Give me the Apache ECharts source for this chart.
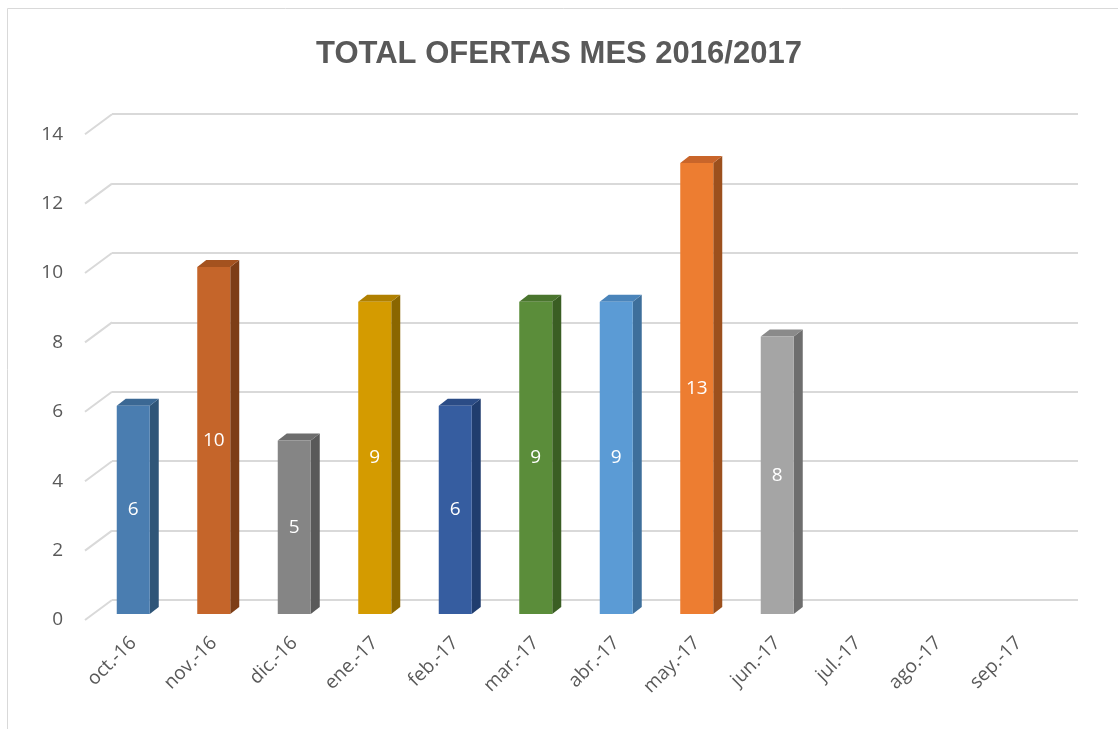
<!DOCTYPE html>
<html>
<head>
<meta charset="utf-8">
<script src="https://cdn.jsdelivr.net/npm/echarts@6/dist/echarts.min.js"></script>
<style>
  html, body { margin: 0; padding: 0; background: #fff; }
  #chart { width: 1118px; height: 729px; }
</style>
</head>
<body>
<div id="chart"></div>
<script>
var months = ['oct.-16', 'nov.-16', 'dic.-16', 'ene.-17', 'feb.-17', 'mar.-17',
    'abr.-17', 'may.-17', 'jun.-17', 'jul.-17', 'ago.-17', 'sep.-17'];
var ofertas = [6, 10, 5, 9, 6, 9, 9, 13, 8];
var yTicks = [0, 2, 4, 6, 8, 10, 12, 14];

// front / side / top colour of each bar
var barColors = [
    ['#4a7db0', '#2f5578', '#3b6894'],
    ['#c5652a', '#7d3e17', '#a4521f'],
    ['#858585', '#595959', '#6d6d6d'],
    ['#d49b00', '#8a6600', '#b08000'],
    ['#365da0', '#203d6e', '#2b4c86'],
    ['#5b8d3a', '#3a5e23', '#4a752e'],
    ['#5b9bd5', '#3e6f9b', '#4a84ba'],
    ['#ed7d31', '#9c501d', '#c9652a'],
    ['#a5a5a5', '#6e6e6e', '#8a8a8a']
];

var DX = 9, DY = 7;       // depth of a bar
var WX = 27, WY = 20;     // depth of the floor / wall

var chart = echarts.init(document.getElementById('chart'));

var option = {
    animation: false,
    title: {
        text: 'TOTAL OFERTAS MES 2016/2017',
        left: 'center',
        top: 34,
        textStyle: {
            fontFamily: 'Liberation Sans, sans-serif',
            fontSize: 31,
            fontWeight: 'bold',
            color: '#595959'
        }
    },
    graphic: [{
        type: 'rect',
        shape: { x: 7.5, y: 8.5, width: 1300, height: 900 },
        style: { fill: null, stroke: '#d9d9d9', lineWidth: 1 },
        silent: true
    }],
    grid: [
        // bars
        { left: 93, right: 1118 - 93 - 966, top: 614 - 14 * 34.7, bottom: 729 - 614 },
        // back wall
        { left: 112, right: 1118 - 1078, top: 600 - 14 * 34.7, bottom: 729 - 600 },
        // front edge (labels)
        { left: 85, right: 1118 - 85 - 966, top: 620 - 14 * 34.7, bottom: 729 - 620 }
    ],
    xAxis: [{
        gridIndex: 0,
        type: 'category',
        data: months,
        axisLine: { show: false },
        axisTick: { show: false },
        axisLabel: {
            rotate: 45,
            interval: 0,
            margin: 26,
            fontSize: 19,
            color: '#595959',
            fontFamily: 'Open Sans, sans-serif'
        }
    }, {
        gridIndex: 1,
        type: 'value',
        min: 0, max: 12,
        show: false
    }, {
        gridIndex: 2,
        type: 'value',
        min: 0, max: 12,
        show: false
    }],
    yAxis: [{
        gridIndex: 0,
        type: 'value',
        min: 0, max: 14, interval: 2,
        axisLabel: { show: false },
        axisLine: { show: false },
        axisTick: { show: false },
        splitLine: { show: false }
    }, {
        gridIndex: 1,
        type: 'value',
        min: 0, max: 14, interval: 2,
        axisLabel: { show: false },
        axisLine: { show: false },
        axisTick: { show: false },
        splitLine: { lineStyle: { color: '#d9d9d9', width: 2 } }
    }, {
        gridIndex: 2,
        type: 'value',
        min: 0, max: 14, interval: 2,
        axisLine: { show: false },
        axisTick: { show: false },
        splitLine: { show: false },
        axisLabel: {
            margin: 22,
            fontSize: 19,
            color: '#595959',
            fontFamily: 'Open Sans, sans-serif'
        }
    }],
    series: [{
        // diagonal edges of the floor
        type: 'custom',
        xAxisIndex: 1,
        yAxisIndex: 1,
        silent: true,
        data: yTicks.map(function (t) { return [0, t]; }),
        renderItem: function (params, api) {
            var p = api.coord([0, api.value(1)]);
            return {
                type: 'line',
                shape: { x1: p[0] - WX, y1: p[1] + WY, x2: p[0], y2: p[1] },
                style: { stroke: '#d9d9d9', lineWidth: 2 }
            };
        }
    }, {
        type: 'custom',
        xAxisIndex: 0,
        yAxisIndex: 0,
        data: ofertas.map(function (v, i) { return [i, v]; }),
        renderItem: function (params, api) {
            var v = api.value(1);
            var base = api.coord([api.value(0), 0]);
            var top = api.coord([api.value(0), v]);
            var w = api.size([1, 0])[0] * 0.41;
            var x0 = base[0] - w / 2, x1 = base[0] + w / 2;
            var c = barColors[params.dataIndex];
            return {
                type: 'group',
                children: [{
                    type: 'polygon',
                    shape: { points: [[x1, top[1]], [x1 + DX, top[1] - DY], [x1 + DX, base[1] - DY], [x1, base[1]]] },
                    style: { fill: c[1] }
                }, {
                    type: 'polygon',
                    shape: { points: [[x0, top[1]], [x0 + DX, top[1] - DY], [x1 + DX, top[1] - DY], [x1, top[1]]] },
                    style: { fill: c[2] }
                }, {
                    type: 'rect',
                    shape: { x: x0, y: top[1], width: w, height: base[1] - top[1] },
                    style: { fill: c[0] }
                }, {
                    type: 'text',
                    style: {
                        text: String(v),
                        x: base[0],
                        y: (base[1] + top[1]) / 2,
                        fill: '#ffffff',
                        fontSize: 19,
                        fontFamily: 'Open Sans, sans-serif',
                        align: 'center',
                        verticalAlign: 'middle'
                    }
                }]
            };
        }
    }]
};

chart.setOption(option);
</script>
</body>
</html>
